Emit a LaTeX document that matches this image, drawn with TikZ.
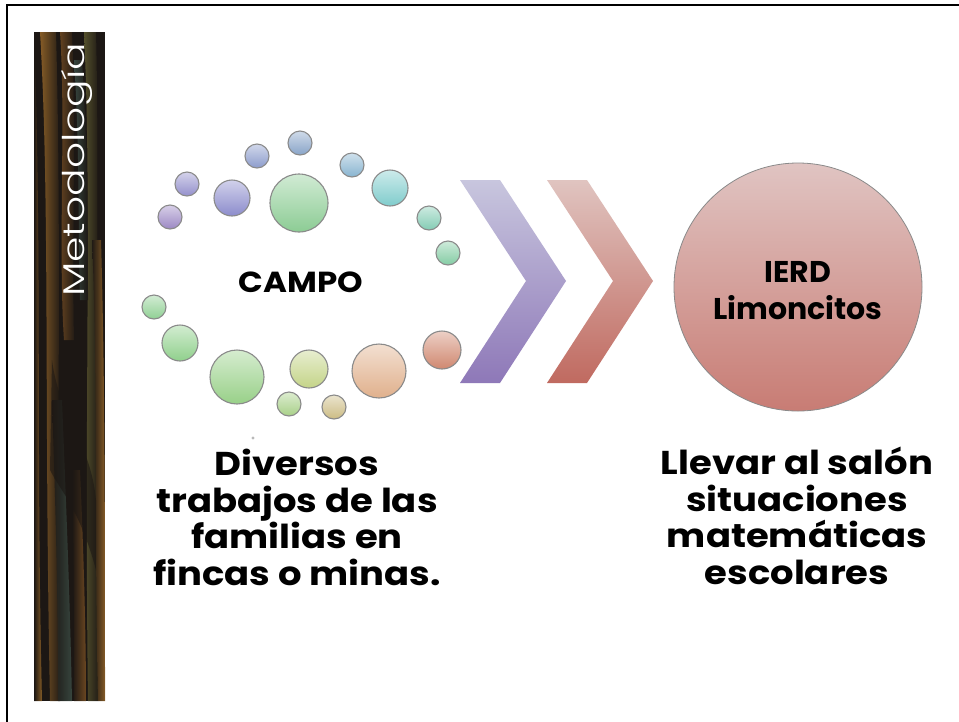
\documentclass[tikz,border=0pt]{standalone}
\usepackage{fontspec}
\setmainfont{Poppins}[FakeStretch=1.12]
\newfontfamily\plainfont{Poppins}
\newfontfamily\lightfont{Poppins}[UprightFont=* Light, FakeStretch=1.36]
\definecolor{outl}{HTML}{8A8A8A}
\definecolor{cA}{HTML}{9C88C4}
\definecolor{cB}{HTML}{9490CC}
\definecolor{cC}{HTML}{8C8CCC}
\definecolor{cD}{HTML}{8C9CCC}
\definecolor{cE}{HTML}{88A4C8}
\definecolor{cF}{HTML}{8CCC94}
\definecolor{cG}{HTML}{88B4D0}
\definecolor{cH}{HTML}{80CCCC}
\definecolor{cI}{HTML}{84CCB4}
\definecolor{cJ}{HTML}{84CCA4}
\definecolor{cK}{HTML}{90D094}
\definecolor{cL}{HTML}{90D08C}
\definecolor{cM}{HTML}{98D088}
\definecolor{cN}{HTML}{C4D488}
\definecolor{cO}{HTML}{A8D088}
\definecolor{cP}{HTML}{CCBC84}
\definecolor{cQ}{HTML}{E0B08C}
\definecolor{cR}{HTML}{D08870}
\definecolor{chAtop}{HTML}{C8C6DE}
\definecolor{chAbot}{HTML}{8E78B8}
\definecolor{chBtop}{HTML}{E0C4C0}
\definecolor{chBbot}{HTML}{C06A60}
\definecolor{bigtop}{HTML}{E0C4C2}
\definecolor{bigbot}{HTML}{C87C74}
\definecolor{barbase}{HTML}{1C1714}
\definecolor{barbrown}{HTML}{7A5024}
\definecolor{barolive}{HTML}{5E5A30}
\definecolor{barteal}{HTML}{3C4E46}
\definecolor{barorange}{HTML}{98682A}
\tikzset{
  bub/.style={circle, draw=outl, line width=1.1pt, inner sep=0pt},
  bigtxt/.style={font=\bfseries\fontsize{33}{36.5}\selectfont, align=center, inner sep=0pt, anchor=north},
  streak/.style={opacity=0.85},
}
\newcommand\bub[5]{\node[bub, minimum size=#4pt, top color=#5!40!white, bottom color=#5] (#1) at (#2,#3) {};}
\begin{document}
\begin{tikzpicture}[x=1pt,y=-1pt]
\useasboundingbox (0,0) rectangle (959,721);
\fill[white] (0,0) rectangle (959,721);
% frame (only top and left visible)
\draw[line width=2.2pt] (6.8,730) -- (6.8,5) -- (970,5);
% left bar
\begin{scope}
\clip (34,32) rectangle (105,701);
\fill[barbase] (34,32) rectangle (105,701);
\shade[streak, left color=barbase, right color=barorange] (34,32) .. controls (42,250) and (36,450) .. (42,701) -- (34,701) -- cycle;
\shade[streak, left color=barorange, right color=barbase] (40,32) .. controls (50,200) and (44,400) .. (50,701) -- (60,701) .. controls (56,450) and (62,250) .. (56,32) -- cycle;
\shade[streak, left color=barbase, right color=barteal] (52,400) .. controls (56,520) and (58,600) .. (58,701) -- (72,701) .. controls (70,600) and (66,500) .. (62,400) -- cycle;
\shade[streak, left color=barbrown, right color=barbase] (60,32) .. controls (66,120) and (58,250) .. (64,340) -- (74,340) .. controls (72,250) and (76,120) .. (72,32) -- cycle;
\shade[streak, left color=barbase, right color=barbrown] (72,470) .. controls (74,560) and (74,640) .. (74,701) -- (86,701) .. controls (86,640) and (84,560) .. (80,470) -- cycle;
\shade[streak, left color=barolive, right color=barbase] (84,32) .. controls (92,200) and (84,400) .. (88,701) -- (98,701) .. controls (94,400) and (100,200) .. (96,32) -- cycle;
\shade[streak, left color=barbase, right color=barorange] (92,240) .. controls (98,380) and (94,520) .. (98,701) -- (105,701) .. controls (105,520) and (105,380) .. (101,240) -- cycle;
\shade[streak, left color=barteal, right color=barbase] (74,60) .. controls (80,150) and (78,240) .. (80,300) -- (88,300) .. controls (88,240) and (88,150) .. (82,60) -- cycle;
\fill[barbase, opacity=0.6] (52,360) .. controls (60,420) and (90,440) .. (96,500) -- (96,570) .. controls (80,510) and (60,490) .. (50,470) -- cycle;
\end{scope}
\node[text=white, rotate=90, anchor=base west, inner sep=0pt, font=\lightfont\fontsize{30}{32}\selectfont] (meto) at (84,297) {Metodología};
% bubbles
\bub{b1}{170}{217}{24}{cA}
\bub{b2}{187}{184}{24}{cB}
\bub{b3}{232}{198}{36}{cC}
\bub{b4}{257}{156}{24}{cD}
\bub{b5}{300}{143}{24}{cE}
\bub{b6}{299}{203}{58}{cF}
\bub{b7}{352}{165}{24}{cG}
\bub{b8}{390}{188}{36}{cH}
\bub{b9}{429}{218}{24}{cI}
\bub{b10}{448}{253}{24}{cJ}
\bub{b11}{154}{307}{24}{cK}
\bub{b12}{180}{343}{36}{cL}
\bub{b13}{237}{377}{54}{cM}
\bub{b14}{309}{369}{38}{cN}
\bub{b15}{289}{404}{24}{cO}
\bub{b16}{334}{407}{24}{cP}
\bub{b17}{379}{371}{54}{cQ}
\bub{b18}{442}{350}{38}{cR}
\fill[gray!55] (253,438) circle (1.6);
\node[font=\bfseries\fontsize{29}{32}\selectfont, inner sep=0pt] (campo) at (301,282) {CAMPO};
% chevrons
\shade[top color=chAtop, bottom color=chAbot] (460,180) -- (500,180) -- (566,281) -- (500,383) -- (460,383) -- (526,281) -- cycle;
\shade[top color=chBtop, bottom color=chBbot] (547,180) -- (587,180) -- (653,281) -- (587,383) -- (547,383) -- (613,281) -- cycle;
% big circle
\node[circle, draw=outl, line width=0.8pt, minimum size=248pt, inner sep=0pt, top color=bigtop, bottom color=bigbot] (ierd) at (798,287) {};
\node[font=\plainfont\bfseries\fontsize{30}{37}\selectfont, align=center, inner sep=0pt] (ierdtxt) at (798,291) {IERD\\Limoncitos};
% bottom texts
\node[bigtxt] (left) at (297,449) {Diversos\\trabajos de las\\familias en\\fincas o minas.};
\node[bigtxt] (right) at (797,447) {Llevar al salón\\situaciones\\matemáticas\\escolares};
\end{tikzpicture}
\end{document}
